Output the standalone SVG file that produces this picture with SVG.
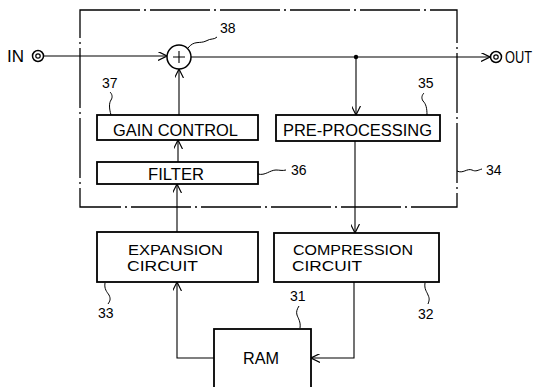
<svg xmlns="http://www.w3.org/2000/svg" width="545" height="387" viewBox="0 0 545 387">
<defs>
<style>
.box{fill:#fff;stroke:#000;stroke-width:1.8}
.ln{fill:none;stroke:#000;stroke-width:1.1}
.sq{fill:none;stroke:#000;stroke-width:1}
.t{font-family:"Liberation Sans",Arial,sans-serif;font-size:16px;fill:#000}
.t2{font-family:"Liberation Sans",Arial,sans-serif;font-size:15px;fill:#000}
.n{font-family:"Liberation Sans",Arial,sans-serif;font-size:14px;fill:#000}
</style>
<marker id="ah" viewBox="0 0 10 10" refX="10" refY="5" markerWidth="9" markerHeight="9" markerUnits="userSpaceOnUse" orient="auto">
<path d="M0,0 L10,5 L0,10" fill="none" stroke="#000" stroke-width="1.3"/>
</marker>
</defs>
<rect width="545" height="387" fill="#fff"/>

<g id="box34">
<rect x="80" y="10" width="377" height="197" fill="none" stroke="#000" stroke-width="1.3" stroke-dasharray="60,4,2,4"/>
<path class="sq" d="M457,171 C463,174 467,168 472,170 C476,172 478,170 482,169"/>
<text class="n" x="486" y="175">34</text>
</g>

<g id="in">
<text class="t" x="7" y="62" textLength="17" lengthAdjust="spacingAndGlyphs">IN</text>
<circle cx="38" cy="56" r="5.5" fill="none" stroke="#000" stroke-width="1.5"/>
<circle cx="38" cy="56" r="2.2" fill="none" stroke="#000" stroke-width="1.2"/>
</g>

<g id="out">
<circle cx="496" cy="57" r="5.5" fill="none" stroke="#000" stroke-width="1.5"/>
<circle cx="496" cy="57" r="2.2" fill="none" stroke="#000" stroke-width="1.2"/>
<text class="t" x="505" y="63" textLength="27" lengthAdjust="spacingAndGlyphs">OUT</text>
</g>

<g id="adder38">
<circle cx="179" cy="57" r="12" fill="#fff" stroke="#000" stroke-width="1.5"/>
<path class="ln" d="M173,57 H185 M179,51 V63" stroke-width="1.3"/>
<path class="sq" d="M188,48 C194,40 200,44 206,41 C211,38 214,40 217,37"/>
<text class="n" x="220" y="33">38</text>
</g>

<g id="gain37">
<rect class="box" x="97" y="115" width="161" height="25"/>
<text class="t" x="113" y="136" textLength="125" lengthAdjust="spacingAndGlyphs">GAIN CONTROL</text>
<path class="sq" d="M111,115 C109,108 109,103 111,100 C113,97 112,94 110,92"/>
<text class="n" x="102" y="88">37</text>
</g>

<g id="pre35">
<rect class="box" x="276" y="115" width="164" height="26"/>
<text class="t" x="283" y="136" textLength="149" lengthAdjust="spacingAndGlyphs">PRE-PROCESSING</text>
<path class="sq" d="M427,115 C427,108 426,104 423,101 C421,98 422,95 424,93"/>
<text class="n" x="418" y="88">35</text>
</g>

<g id="filter36">
<rect class="box" x="97" y="162" width="161" height="22"/>
<text class="t" x="148" y="180" textLength="56" lengthAdjust="spacingAndGlyphs">FILTER</text>
<path class="sq" d="M258,174 C265,176 270,170 276,170 C280,170 282,171 286,170"/>
<text class="n" x="291" y="175">36</text>
</g>

<g id="exp33">
<rect class="box" x="97" y="232" width="161" height="50"/>
<text class="t2" x="128" y="255" textLength="95" lengthAdjust="spacingAndGlyphs">EXPANSION</text>
<text class="t2" x="127" y="271" textLength="71" lengthAdjust="spacingAndGlyphs">CIRCUIT</text>
<path class="sq" d="M105,283 C104,289 107,292 109,295 C111,299 110,301 108,304"/>
<text class="n" x="98" y="318">33</text>
</g>

<g id="comp32">
<rect class="box" x="274" y="233" width="165" height="49"/>
<text class="t2" x="293" y="255" textLength="120" lengthAdjust="spacingAndGlyphs">COMPRESSION</text>
<text class="t2" x="292" y="271" textLength="70" lengthAdjust="spacingAndGlyphs">CIRCUIT</text>
<path class="sq" d="M425,283 C424,289 427,292 428,295 C430,299 429,301 428,304"/>
<text class="n" x="418" y="319">32</text>
</g>

<g id="ram31">
<rect class="box" x="214" y="329" width="97" height="70"/>
<text class="t" x="243" y="364" textLength="36" lengthAdjust="spacingAndGlyphs">RAM</text>
<path class="sq" d="M300,328 C301,322 298,318 297,315 C296,312 297,309 299,306"/>
<text class="n" x="290" y="301">31</text>
</g>

<g id="connectors">
<path class="ln" d="M44,56 H167" marker-end="url(#ah)"/>
<path class="ln" d="M191,57 H490" marker-end="url(#ah)"/>
<circle cx="356" cy="57" r="2.2" fill="#000"/>
<path class="ln" d="M356,57 V115" marker-end="url(#ah)"/>
<path class="ln" d="M355,141 V233" marker-end="url(#ah)"/>
<path class="ln" d="M179,115 V69" marker-end="url(#ah)"/>
<path class="ln" d="M178,162 V140" marker-end="url(#ah)"/>
<path class="ln" d="M177,232 V184" marker-end="url(#ah)"/>
<path class="ln" d="M214,358 H177 V282" marker-end="url(#ah)"/>
<path class="ln" d="M354,282 V358 H311" marker-end="url(#ah)"/>
</g>
</svg>
